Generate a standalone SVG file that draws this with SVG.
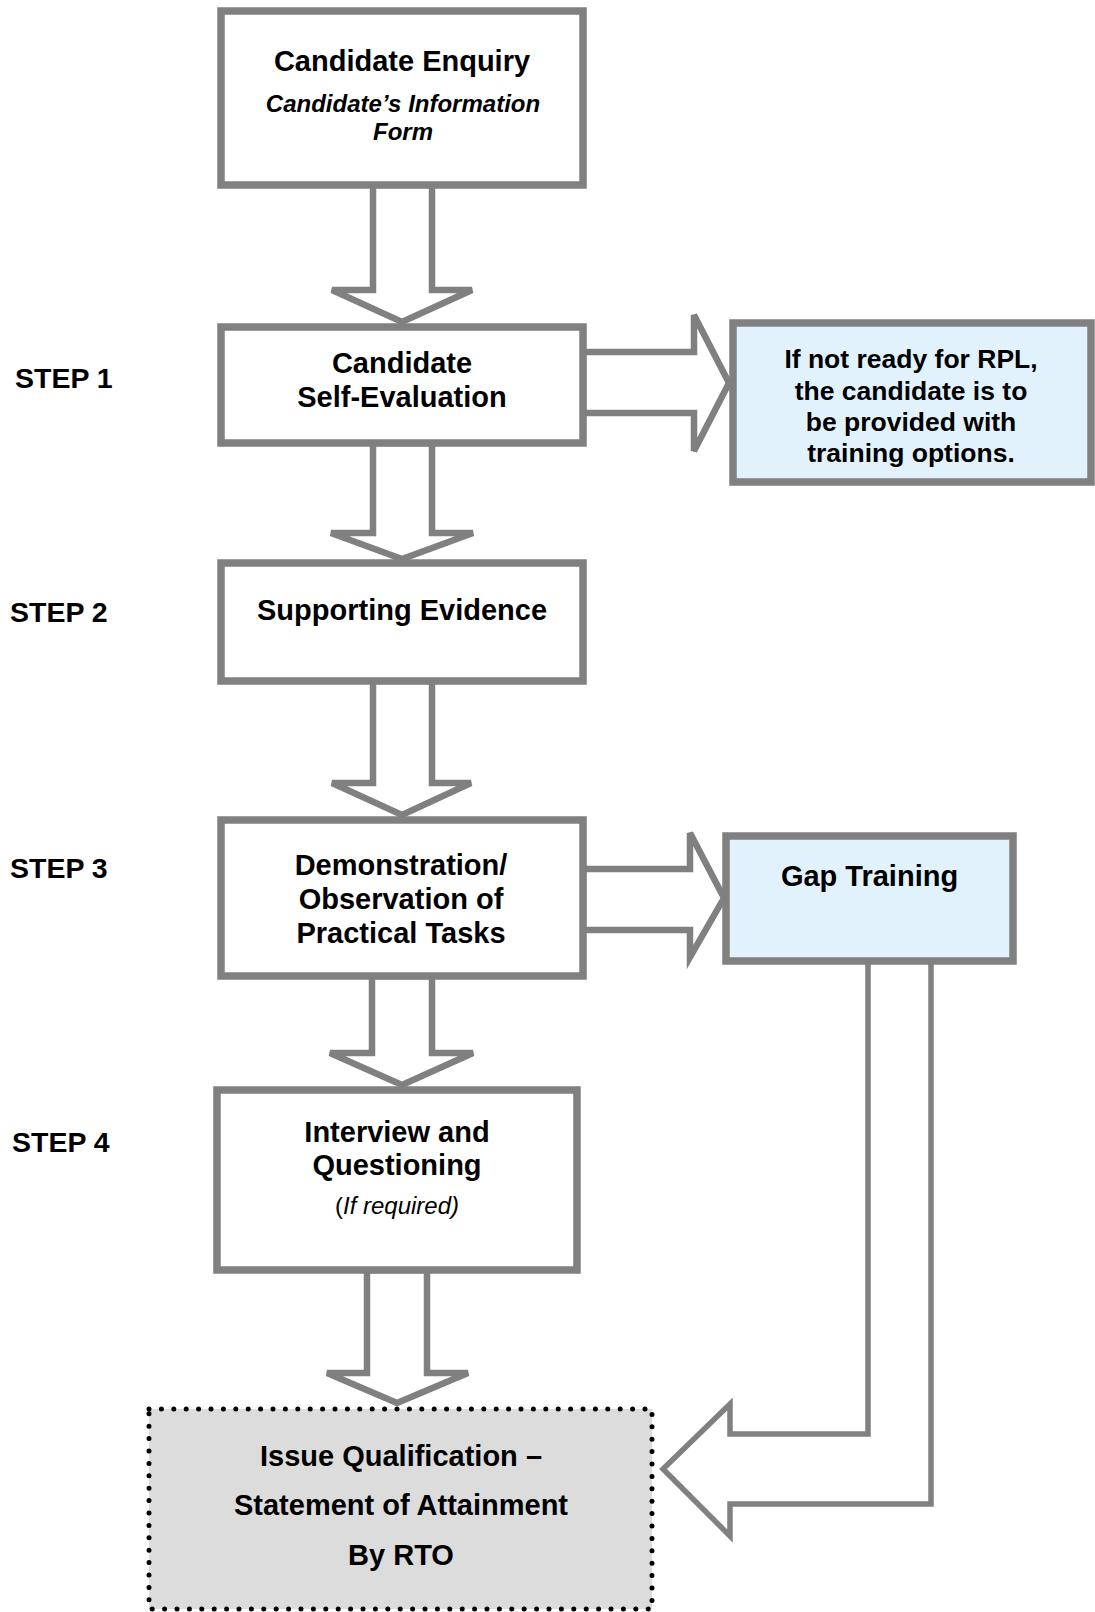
<svg xmlns="http://www.w3.org/2000/svg" width="1095" height="1612" viewBox="0 0 1095 1612">
<style>
  .box { fill: #ffffff; stroke: #808080; stroke-width: 7.5; }
  .blue { fill: #E2F2FD; stroke: #808080; stroke-width: 7.5; }
  .final { fill: #DCDCDC; stroke: #000000; stroke-width: 5; stroke-dasharray: 0 12.4; stroke-linecap: round; }
  .arrow { fill: #ffffff; stroke: #808080; stroke-width: 6.5; stroke-linejoin: miter; }
  .t { font-family: "Liberation Sans", Arial, sans-serif; font-weight: bold; font-size: 29px; text-anchor: middle; fill: #000; }
  .ti { font-family: "Liberation Sans", Arial, sans-serif; font-weight: bold; font-style: italic; font-size: 24px; text-anchor: middle; fill: #000; }
  .tr { font-family: "Liberation Sans", Arial, sans-serif; font-size: 24px; text-anchor: middle; fill: #000; }
  .tb { font-family: "Liberation Sans", Arial, sans-serif; font-weight: bold; font-size: 26.5px; text-anchor: middle; fill: #000; }
  .step { font-family: "Liberation Sans", Arial, sans-serif; font-weight: bold; font-size: 28.5px; fill: #000; }
</style>

<g id="connectors">
  <polygon class="arrow" points="373,185 373,290 332,290 402,322 472,290 432,290 432,185"/>
  <polygon class="arrow" points="373,443 373,533 331,533 402,559 473,533 432,533 432,443"/>
  <polygon class="arrow" points="373,681 373,783 332,783 402,815 471,783 432,783 432,681"/>
  <polygon class="arrow" points="372,976 372,1053 330,1053 402,1085 473,1053 432,1053 432,976"/>
  <polygon class="arrow" points="367,1270 367,1373 327,1373 397,1403 468,1373 427,1373 427,1270"/>
  <polygon class="arrow" points="583,352 694,352 694,315 729,383 694,451 694,413 583,413"/>
  <polygon class="arrow" points="583,869 690,869 690,833 724,898 690,957 690,930 583,930"/>
  <polygon class="arrow" points="868,960 868,1434 730,1434 730,1404 663,1469 730,1536 730,1504 931,1504 931,960" style="stroke-width:5.5"/>
</g>

<g id="step-labels">
  <text class="step" x="15" y="388">STEP 1</text>
  <text class="step" x="10" y="622">STEP 2</text>
  <text class="step" x="10" y="878">STEP 3</text>
  <text class="step" x="12" y="1152">STEP 4</text>
</g>

<g id="node-enquiry">
  <rect class="box" x="221" y="11" width="362" height="174"/>
  <text class="t" x="402" y="71">Candidate Enquiry</text>
  <text class="ti" x="403" y="112">Candidate’s Information</text>
  <text class="ti" x="403" y="140">Form</text>
</g>

<g id="node-self-eval">
  <rect class="box" x="221" y="327" width="362" height="116"/>
  <text class="t" x="402" y="373">Candidate</text>
  <text class="t" x="402" y="407">Self-Evaluation</text>
</g>

<g id="node-not-ready">
  <rect class="blue" x="733" y="323" width="358" height="159"/>
  <text class="tb" x="911" y="368">If not ready for RPL,</text>
  <text class="tb" x="911" y="399.5">the candidate is to</text>
  <text class="tb" x="911" y="431">be provided with</text>
  <text class="tb" x="911" y="462">training options.</text>
</g>

<g id="node-evidence">
  <rect class="box" x="221" y="563" width="362" height="118"/>
  <text class="t" x="402" y="620">Supporting Evidence</text>
</g>

<g id="node-demonstration">
  <rect class="box" x="221" y="820" width="362" height="156"/>
  <text class="t" x="401" y="875">Demonstration/</text>
  <text class="t" x="401" y="909">Observation of</text>
  <text class="t" x="401" y="943">Practical Tasks</text>
</g>

<g id="node-gap">
  <rect class="blue" x="726" y="836" width="287" height="125"/>
  <text class="t" x="869.5" y="886">Gap Training</text>
</g>

<g id="node-interview">
  <rect class="box" x="217" y="1090" width="360" height="180"/>
  <text class="t" x="397" y="1142">Interview and</text>
  <text class="t" x="397" y="1175">Questioning</text>
  <text class="tr" x="397" y="1214">(<tspan font-style="italic">If required)</tspan></text>
</g>

<g id="node-issue">
  <rect class="final" x="149" y="1409" width="503" height="200"/>
  <text class="t" x="401" y="1466">Issue Qualification –</text>
  <text class="t" x="401" y="1515">Statement of Attainment</text>
  <text class="t" x="401" y="1565">By RTO</text>
</g>
</svg>
